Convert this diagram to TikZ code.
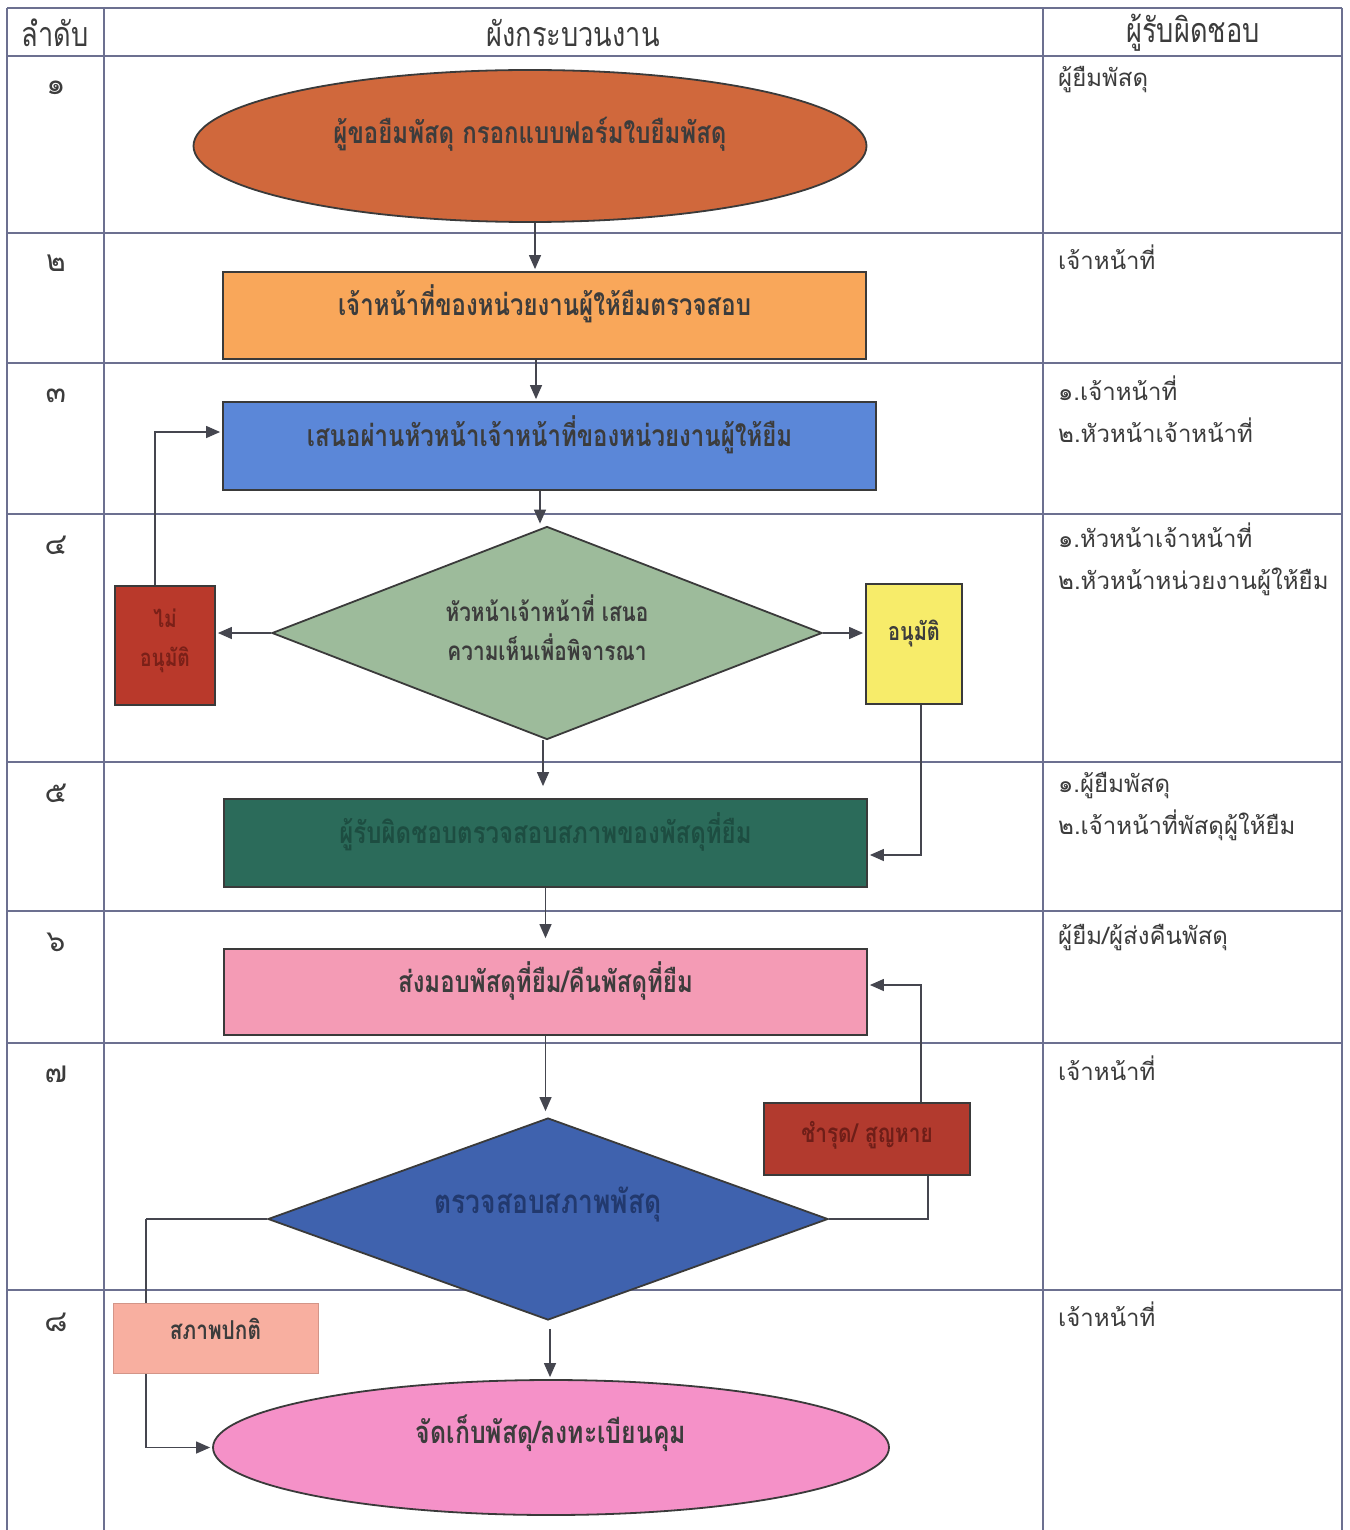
\documentclass[tikz,border=0pt]{standalone}
\usepackage{fontspec}
\newfontfamily\thai[Script=Thai]{Loma}
\newfontfamily\thainarrow[Script=Thai,FakeStretch=0.8]{Loma}
\usetikzlibrary{shapes.geometric,arrows.meta}
\definecolor{tblline}{HTML}{6C7090}
\definecolor{conn}{HTML}{45464F}
\definecolor{edge}{HTML}{3A3A3A}
\definecolor{txt}{HTML}{3C3C3C}
\definecolor{cE1}{HTML}{D0683C}
\definecolor{cB2}{HTML}{F9A75A}
\definecolor{cB3}{HTML}{5B87D8}
\definecolor{cD1}{HTML}{9DBB9B}
\definecolor{cNo}{HTML}{B9392B}
\definecolor{cNoT}{HTML}{7A2018}
\definecolor{cYes}{HTML}{F7EC6A}
\definecolor{cB5}{HTML}{2B6B5A}
\definecolor{cB5T}{HTML}{1D4D41}
\definecolor{cB6}{HTML}{F49BB5}
\definecolor{cD2}{HTML}{3F62AE}
\definecolor{cD2T}{HTML}{22396E}
\definecolor{cDam}{HTML}{B23A2E}
\definecolor{cDamT}{HTML}{6E1E18}
\definecolor{cNorm}{HTML}{F8AFA0}
\definecolor{cE2}{HTML}{F591C8}
\begin{document}
\begin{tikzpicture}[x=1pt,y=-1pt,
  tbl/.style={draw=tblline,line width=1.4pt},
  flowtext/.style={text=txt,text height=0pt,text depth=0pt,font=\thainarrow\bfseries\fontsize{30}{34}\selectfont},
  flowbox/.style={rectangle,draw=edge,line width=1.8pt,inner sep=0pt,flowtext},
  flowell/.style={ellipse,draw=edge,line width=1.8pt,inner sep=0pt,flowtext},
  flowdia/.style={diamond,draw=edge,line width=1.8pt,inner sep=0pt},
  multitext/.style={inner sep=0pt,align=center},
  arr/.style={draw=conn,line width=1.3pt,-{Triangle[length=14pt,width=12pt]},shorten >=2pt},
  ln/.style={draw=conn,line width=1.3pt},
  resp/.style={anchor=west,inner sep=0pt,text=txt,font=\thai\fontsize{24}{42}\selectfont,align=left},
  num/.style={inner sep=0pt,text=txt,font=\thai\fontsize{30}{34}\selectfont},
  head/.style={inner sep=0pt,text=txt,font=\thainarrow\fontsize{34}{40}\selectfont}]
\useasboundingbox (0,0) rectangle (1349,1530);
\fill[white] (0,0) rectangle (1349,1530);

% table
\foreach \yy in {8,56,233,363,514,762,911,1043,1290}
  \draw[tbl] (7,\yy) -- (1342,\yy);
\foreach \xx in {7,104,1043,1342}
  \draw[tbl] (\xx,8) -- (\xx,1530);

% headers
\node[head] (h1) at (55,33) {ลำดับ};
\node[head] (h2) at (573,33) {ผังกระบวนงาน};
\node[head] (h3) at (1193,33) {ผู้รับผิดชอบ};

% numbers
\node[num] (n1) at (56,88) {๑};
\node[num] (n2) at (56,263) {๒};
\node[num] (n3) at (56,396) {๓};
\node[num] (n4) at (56,545) {๔};
\node[num] (n5) at (56,793) {๕};
\node[num] (n6) at (56,942) {๖};
\node[num] (n7) at (56,1074) {๗};
\node[num] (n8) at (56,1322) {๘};

% responsibility
\node[resp] (r1) at (1058,80) {ผู้ยืมพัสดุ};
\node[resp] (r2) at (1058,257) {เจ้าหน้าที่};
\node[resp] (r3) at (1058,409) {๑.เจ้าหน้าที่\\๒.หัวหน้าเจ้าหน้าที่};
\node[resp] (r4) at (1058,559) {๑.หัวหน้าเจ้าหน้าที่\\๒.หัวหน้าหน่วยงานผู้ให้ยืม};
\node[resp] (r5) at (1058,807) {๑.ผู้ยืมพัสดุ\\๒.เจ้าหน้าที่พัสดุผู้ให้ยืม};
\node[resp] (r6) at (1058,938) {ผู้ยืม/ผู้ส่งคืนพัสดุ};
\node[resp] (r7) at (1058,1068) {เจ้าหน้าที่};
\node[resp] (r8) at (1058,1314) {เจ้าหน้าที่};

% flow shapes
\node[flowell,fill=cE1,minimum width=673pt,minimum height=152pt,text depth=4pt] (e1) at (530,146) {ผู้ขอยืมพัสดุ กรอกแบบฟอร์มใบยืมพัสดุ};
\node[flowbox,fill=cB2,minimum width=643pt,minimum height=87pt] (b2) at (544.5,315.5) {เจ้าหน้าที่ของหน่วยงานผู้ให้ยืมตรวจสอบ};
\node[flowbox,fill=cB3,minimum width=653pt,minimum height=88pt] (b3) at (549.5,446) {เสนอผ่านหัวหน้าเจ้าหน้าที่ของหน่วยงานผู้ให้ยืม};
\node[flowdia,fill=cD1,minimum width=550pt,minimum height=213pt] (d1) at (547,633) {};
\node[multitext,text=txt,font=\thainarrow\bfseries\fontsize{26}{39}\selectfont] (d1t) at ([yshift=5pt]d1.center) {หัวหน้าเจ้าหน้าที่ เสนอ\\ความเห็นเพื่อพิจารณา};
\node[flowbox,fill=cNo,minimum width=100pt,minimum height=119pt] (nb) at (165,645.5) {};
\node[multitext,text=cNoT,font=\thainarrow\bfseries\fontsize{24}{39}\selectfont] (nbt) at ([yshift=5pt]nb.center) {ไม่\\อนุมัติ};
\node[flowbox,fill=cYes,minimum width=96pt,minimum height=120pt,text depth=8pt,font=\thainarrow\bfseries\fontsize{25}{30}\selectfont] (ab) at (914,644) {อนุมัติ};
\node[flowbox,fill=cB5,text=cB5T,minimum width=643pt,minimum height=88pt] (b5) at (545.5,843) {ผู้รับผิดชอบตรวจสอบสภาพของพัสดุที่ยืม};
\node[flowbox,fill=cB6,minimum width=643pt,minimum height=86pt] (b6) at (545.5,992) {ส่งมอบพัสดุที่ยืม/คืนพัสดุที่ยืม};
\node[flowdia,fill=cD2,minimum width=560pt,minimum height=202pt] (d2) at (548,1219) {};
\node[flowtext,inner sep=0pt,text=cD2T,font=\thainarrow\bfseries\fontsize{33}{38}\selectfont] (d2t) at ([yshift=6pt]d2.center) {ตรวจสอบสภาพพัสดุ};
\node[flowbox,fill=cDam,text=cDamT,minimum width=206pt,minimum height=72pt,text height=7pt,font=\thainarrow\bfseries\fontsize{26}{30}\selectfont] (cb) at (867,1139) {ชำรุด/ สูญหาย};

% connectors
\draw[arr] ([xshift=5pt]e1.south) -- ([xshift=5pt]e1.south |- b2.north) ;
\draw[arr] ([xshift=-8.5pt]b2.south) -- ([xshift=-8.5pt]b2.south |- b3.north);
\draw[arr] ([xshift=-9.5pt]b3.south) -- ([xshift=-7pt]d1.north);
\draw[arr] (d1.west) -- (d1.west -| nb.east);
\draw[arr] ([xshift=-10pt]nb.north) |- ([yshift=14pt]b3.west);
\draw[arr] (d1.east) -- (d1.east -| ab.west);
\draw[arr] ([xshift=7pt]ab.south) |- ([yshift=-12pt]b5.east);
\draw[arr,shorten >=12pt] ([xshift=-4pt]d1.south) -- ([xshift=-4pt]d1.south |- b5.north);
\draw[arr,shorten >=10pt] (b5.south) -- (b5.south |- b6.north);
\draw[arr,shorten >=6pt] (b6.south) -- (b6.south |- d2.north);
\draw[ln] (d2.east) -| ([xshift=61pt]cb.south);
\draw[arr] ([xshift=54pt]cb.north) |- ([yshift=7pt]b6.east);
\draw[ln] (d2.west) -- (146,1219) coordinate (lc);
\node[flowell,fill=cE2,minimum width=676pt,minimum height=135pt,text depth=8pt,font=\thainarrow\bfseries\fontsize{31}{36}\selectfont] (e2) at (551,1447.5) {จัดเก็บพัสดุ/ลงทะเบียนคุม};
\draw[arr] (lc) |- (e2.west);
\draw[arr] ([xshift=2pt]d2.south) ++(0,-8pt) -- ([xshift=2pt]d2.south |- e2.north);
\node[rectangle,fill=cNorm,draw=cNorm!85!black,line width=1pt,minimum width=205pt,minimum height=70pt,inner sep=0pt,text=txt,text height=3pt,text depth=0pt,font=\thainarrow\bfseries\fontsize{26}{30}\selectfont] (pb) at (215.5,1338) {สภาพปกติ};
\end{tikzpicture}
\end{document}
